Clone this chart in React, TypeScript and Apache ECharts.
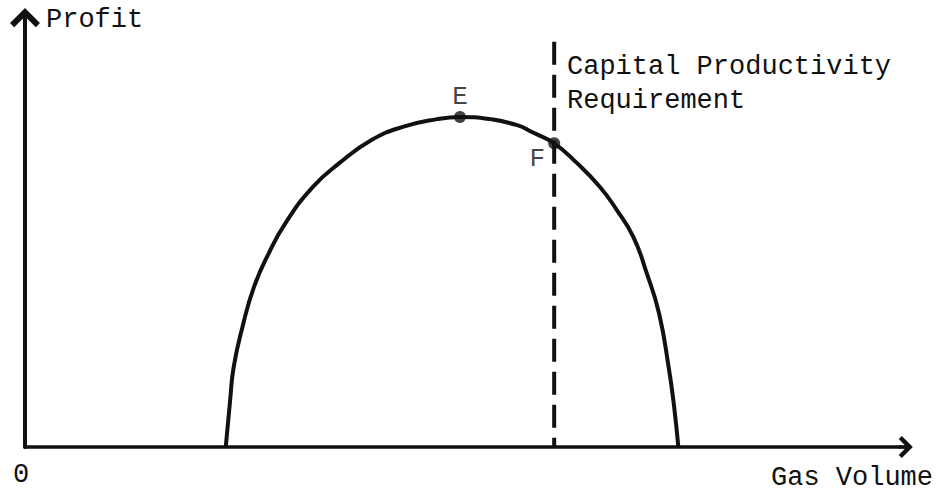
import React, { useEffect, useRef } from "react";
import * as echarts from "echarts";

// Profit curve (x = gas volume, y = profit), arbitrary units 0..100
const curveX = [22.8, 23.3, 23.7, 24.7, 26.0, 27.7, 29.6, 32.7, 35.7, 39.4, 42.9, 46.8, 49.4, 52.8, 55.9, 57.7, 60.1, 62.7, 65.3, 67.2, 69.1, 70.6, 72.0, 73.1, 73.7, 74.2];
const curveY = [0, 10.9, 18.5, 27.8, 37.0, 44.9, 51.9, 60.2, 65.7, 71.1, 74.1, 75.9, 76.4, 75.9, 74.5, 72.8, 70.3, 65.7, 60.2, 54.9, 48.6, 40.3, 31.0, 18.5, 9.7, 0];

// Marked points
const pointNames = ["E", "F"];
const pointX = [49.4, 60.1];
const pointY = [76.4, 70.3];

// Capital productivity requirement (vertical dashed line)
const requirementX = 60.1;
const requirementTop = 93.8;

// Axis extents and texts
const axisMin = 0;
const axisMax = 100;
const yAxisTitle = "Profit";
const xAxisTitle = "Gas Volume";
const originLabel = "0";
const requirementLabel = ["Capital Productivity", "Requirement"];

const FONT = "Liberation Mono";
const INK = "#111";
const ARROW = "path://M15,0 L30,15 L25.8,19.2 L17,10.5 L17,20 L13,20 L13,10.5 L4.2,19.2 L0,15 Z";

export default function App() {
  const ref = useRef<HTMLDivElement>(null);

  useEffect(() => {
    if (!ref.current) return;
    const chart = echarts.init(ref.current, null, { renderer: "svg" });
    const curve = curveX.map((x, i) => [x, curveY[i]]);
    const points = pointX.map((x, i) => ({
      name: pointNames[i],
      value: [x, pointY[i]],
      label:
        i === 0
          ? { position: "top", distance: 1 }
          : { position: "left", distance: 3, offset: [0, 16] },
    }));
    chart.setOption({
      animation: false,
      backgroundColor: "#fff",
      grid: { left: 25, right: 33.5, top: 15, bottom: 46, containLabel: false },
      xAxis: {
        type: "value",
        min: axisMin,
        max: axisMax,
        axisLine: {
          show: true,
          symbol: ["none", ARROW],
          symbolSize: [22, 15],
          lineStyle: { color: INK, width: 3.5 },
        },
        axisTick: { show: false },
        axisLabel: { show: false },
        splitLine: { show: false },
      },
      yAxis: {
        type: "value",
        min: axisMin,
        max: axisMax,
        axisLine: {
          show: true,
          symbol: ["none", ARROW],
          symbolSize: [30, 20],
          symbolOffset: [0, -3],
          lineStyle: { color: INK, width: 4 },
        },
        axisTick: { show: false },
        axisLabel: { show: false },
        splitLine: { show: false },
      },
      series: [
        {
          type: "line",
          data: curve,
          smooth: 0.5,
          showSymbol: false,
          lineStyle: { color: INK, width: 4 },
          z: 3,
        },
        {
          type: "line",
          data: [
            [requirementX, requirementTop],
            [requirementX, 0],
          ],
          showSymbol: false,
          lineStyle: { color: INK, width: 4, type: [23, 10] },
          z: 2,
        },
        {
          type: "scatter",
          data: points,
          symbol: "circle",
          symbolSize: 12,
          itemStyle: { color: INK },
          label: {
            show: true,
            formatter: "{b}",
            fontFamily: FONT,
            fontSize: 26,
            color: INK,
          },
          z: 4,
        },
      ],
      graphic: [
        {
          type: "text",
          x: 46,
          y: 20,
          style: { text: yAxisTitle, font: `27px ${FONT}`, fill: INK, align: "left", verticalAlign: "middle" },
        },
        {
          type: "text",
          x: 771,
          y: 478,
          style: { text: xAxisTitle, font: `27px ${FONT}`, fill: INK, align: "left", verticalAlign: "middle" },
        },
        {
          type: "text",
          x: 21,
          y: 475,
          style: { text: originLabel, font: `27px ${FONT}`, fill: INK, align: "center", verticalAlign: "middle" },
        },
        {
          type: "text",
          x: 567,
          y: 50,
          style: {
            text: requirementLabel.join("\n"),
            font: `27px ${FONT}`,
            lineHeight: 34,
            fill: INK,
            align: "left",
            verticalAlign: "top",
          },
        },
      ],
    });
    return () => chart.dispose();
  }, []);

  return (
    <div
      ref={ref}
      style={{ position: "absolute", left: 0, top: 0, width: 939, height: 493 }}
    />
  );
}
